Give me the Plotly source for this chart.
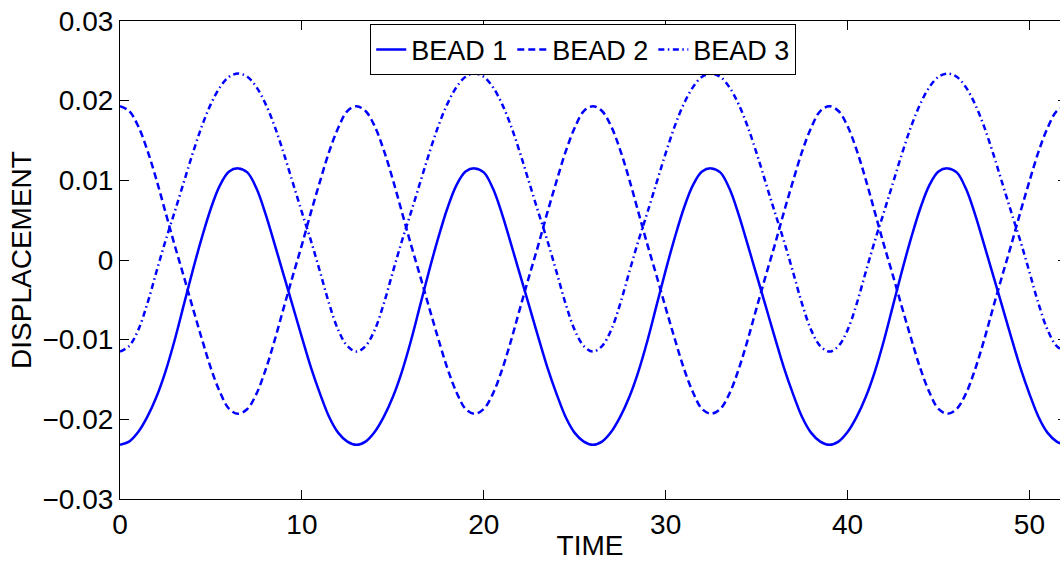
import plotly.graph_objects as go

# Sample times (TIME axis)
TIME = [
    0.0, 0.5, 1.0, 1.5, 2.0, 2.5, 3.0, 3.5, 4.0, 4.5, 5.0, 5.5, 6.0,
    6.5, 7.0, 7.5, 8.0, 8.5, 9.0, 9.5, 10.0, 10.5, 11.0, 11.5, 12.0, 12.5,
    13.0, 13.5, 14.0, 14.5, 15.0, 15.5, 16.0, 16.5, 17.0, 17.5, 18.0, 18.5, 19.0,
    19.5, 20.0, 20.5, 21.0, 21.5, 22.0, 22.5, 23.0, 23.5, 24.0, 24.5, 25.0, 25.5,
    26.0, 26.5, 27.0, 27.5, 28.0, 28.5, 29.0, 29.5, 30.0, 30.5, 31.0, 31.5, 32.0,
    32.5, 33.0, 33.5, 34.0, 34.5, 35.0, 35.5, 36.0, 36.5, 37.0, 37.5, 38.0, 38.5,
    39.0, 39.5, 40.0, 40.5, 41.0, 41.5, 42.0, 42.5, 43.0, 43.5, 44.0, 44.5, 45.0,
    45.5, 46.0, 46.5, 47.0, 47.5, 48.0, 48.5, 49.0, 49.5, 50.0, 50.5, 51.0, 51.5,
    52.0,
]

BEAD1 = [
    -0.0232, -0.0228, -0.0216, -0.0197, -0.0172, -0.0140, -0.0101, -0.0057, -0.0013, 0.0028, 0.0065, 0.0094, 0.0111,
    0.0115, 0.0110, 0.0090, 0.0058, 0.0020, -0.0019, -0.0058, -0.0097, -0.0135, -0.0168, -0.0197, -0.0217, -0.0228,
    -0.0232, -0.0228, -0.0216, -0.0197, -0.0172, -0.0140, -0.0101, -0.0057, -0.0013, 0.0028, 0.0065, 0.0094, 0.0111,
    0.0115, 0.0110, 0.0090, 0.0058, 0.0020, -0.0019, -0.0058, -0.0097, -0.0135, -0.0168, -0.0197, -0.0217, -0.0228,
    -0.0232, -0.0228, -0.0216, -0.0197, -0.0172, -0.0140, -0.0101, -0.0057, -0.0013, 0.0028, 0.0065, 0.0094, 0.0111,
    0.0115, 0.0110, 0.0090, 0.0058, 0.0020, -0.0019, -0.0058, -0.0097, -0.0135, -0.0168, -0.0197, -0.0217, -0.0228,
    -0.0232, -0.0228, -0.0216, -0.0197, -0.0172, -0.0140, -0.0101, -0.0057, -0.0013, 0.0028, 0.0065, 0.0094, 0.0111,
    0.0115, 0.0110, 0.0090, 0.0058, 0.0020, -0.0019, -0.0058, -0.0097, -0.0135, -0.0168, -0.0197, -0.0217, -0.0228,
    -0.0232,
]

BEAD2 = [
    0.0193, 0.0187, 0.0168, 0.0138, 0.0101, 0.0060, 0.0019, -0.0020, -0.0060, -0.0099, -0.0136, -0.0166, -0.0187,
    -0.0193, -0.0187, -0.0168, -0.0138, -0.0101, -0.0060, -0.0020, 0.0019, 0.0060, 0.0099, 0.0136, 0.0166, 0.0187,
    0.0193, 0.0187, 0.0168, 0.0138, 0.0101, 0.0060, 0.0019, -0.0020, -0.0060, -0.0099, -0.0136, -0.0166, -0.0187,
    -0.0193, -0.0187, -0.0168, -0.0138, -0.0101, -0.0060, -0.0020, 0.0019, 0.0060, 0.0099, 0.0136, 0.0166, 0.0187,
    0.0193, 0.0187, 0.0168, 0.0138, 0.0101, 0.0060, 0.0019, -0.0020, -0.0060, -0.0099, -0.0136, -0.0166, -0.0187,
    -0.0193, -0.0187, -0.0168, -0.0138, -0.0101, -0.0060, -0.0020, 0.0019, 0.0060, 0.0099, 0.0136, 0.0166, 0.0187,
    0.0193, 0.0187, 0.0168, 0.0138, 0.0101, 0.0060, 0.0019, -0.0020, -0.0060, -0.0099, -0.0136, -0.0166, -0.0187,
    -0.0193, -0.0187, -0.0168, -0.0138, -0.0101, -0.0060, -0.0020, 0.0019, 0.0060, 0.0099, 0.0136, 0.0166, 0.0187,
    0.0193,
]

BEAD3 = [
    -0.0115, -0.0108, -0.0088, -0.0055, -0.0015, 0.0024, 0.0060, 0.0097, 0.0134, 0.0168, 0.0196, 0.0217, 0.0230,
    0.0234, 0.0230, 0.0217, 0.0196, 0.0168, 0.0134, 0.0097, 0.0060, 0.0024, -0.0015, -0.0055, -0.0088, -0.0108,
    -0.0115, -0.0108, -0.0088, -0.0055, -0.0015, 0.0024, 0.0060, 0.0097, 0.0134, 0.0168, 0.0196, 0.0217, 0.0230,
    0.0234, 0.0230, 0.0217, 0.0196, 0.0168, 0.0134, 0.0097, 0.0060, 0.0024, -0.0015, -0.0055, -0.0088, -0.0108,
    -0.0115, -0.0108, -0.0088, -0.0055, -0.0015, 0.0024, 0.0060, 0.0097, 0.0134, 0.0168, 0.0196, 0.0217, 0.0230,
    0.0234, 0.0230, 0.0217, 0.0196, 0.0168, 0.0134, 0.0097, 0.0060, 0.0024, -0.0015, -0.0055, -0.0088, -0.0108,
    -0.0115, -0.0108, -0.0088, -0.0055, -0.0015, 0.0024, 0.0060, 0.0097, 0.0134, 0.0168, 0.0196, 0.0217, 0.0230,
    0.0234, 0.0230, 0.0217, 0.0196, 0.0168, 0.0134, 0.0097, 0.0060, 0.0024, -0.0015, -0.0055, -0.0088, -0.0108,
    -0.0115,
]

SERIES_NAMES = ["BEAD 1", "BEAD 2", "BEAD 3"]
X_TICKS = [0, 10, 20, 30, 40, 50]
Y_TICKS = [0.03, 0.02, 0.01, 0, -0.01, -0.02, -0.03]
Y_LABELS = ["0.03", "0.02", "0.01", "0", "\u22120.01", "\u22120.02", "\u22120.03"]

FONT = "Liberation Sans, Arial, Helvetica, sans-serif"
FS = 28
BLUE = "#0000ff"

fig = go.Figure()
styles = ["solid", "7px,4px", "6px,3.5px,1.5px,3.5px"]
for name, ys, dash in zip(SERIES_NAMES, [BEAD1, BEAD2, BEAD3], styles):
    fig.add_trace(go.Scatter(
        x=TIME, y=ys, name=name, mode="lines",
        line=dict(color=BLUE, width=2.5, dash=dash, shape="spline", smoothing=1.0),
    ))

# invisible trace to carry the right-hand tick marks
fig.add_trace(go.Scatter(x=[None], y=[None], yaxis="y2", showlegend=False, hoverinfo="skip"))

fig.update_layout(
    width=1060, height=561,
    margin=dict(l=120, r=0, t=21, b=62, pad=0),
    paper_bgcolor="white", plot_bgcolor="white",
    font=dict(family=FONT, size=FS, color="black"),
    showlegend=True,
    legend=dict(
        orientation="h", x=0.4928, xanchor="center", y=0.993, yanchor="top",
        bgcolor="white", bordercolor="black", borderwidth=1,
        font=dict(family=FONT, size=FS - 1, color="black"),
        itemwidth=30, tracegroupgap=0,
    ),
    xaxis=dict(
        range=[0, 51.68], tickvals=X_TICKS, ticks="inside", ticklen=9, tickwidth=1,
        tickcolor="black", showline=True, linecolor="black", linewidth=1.2,
        mirror="ticks", showgrid=False, zeroline=False,
        tickfont=dict(family=FONT, size=FS, color="black"),
        title=dict(text="TIME", font=dict(family=FONT, size=FS, color="black"), standoff=0),
    ),
    yaxis=dict(
        range=[-0.03, 0.03], tickvals=Y_TICKS, ticktext=Y_LABELS, ticks="inside",
        ticklen=9, tickwidth=1, tickcolor="black", showline=True, linecolor="black",
        linewidth=1.2, mirror=False, showgrid=False, zeroline=False,
        tickfont=dict(family=FONT, size=FS, color="black"),
        title=dict(text="DISPLACEMENT", font=dict(family=FONT, size=FS, color="black"), standoff=2),
    ),
    yaxis2=dict(
        overlaying="y", side="right", range=[-0.03, 0.03], tickvals=Y_TICKS,
        ticks="inside", ticklen=2, tickcolor="black", showline=False,
        showticklabels=False, showgrid=False, zeroline=False,
    ),
)

fig.write_html("out.html")
